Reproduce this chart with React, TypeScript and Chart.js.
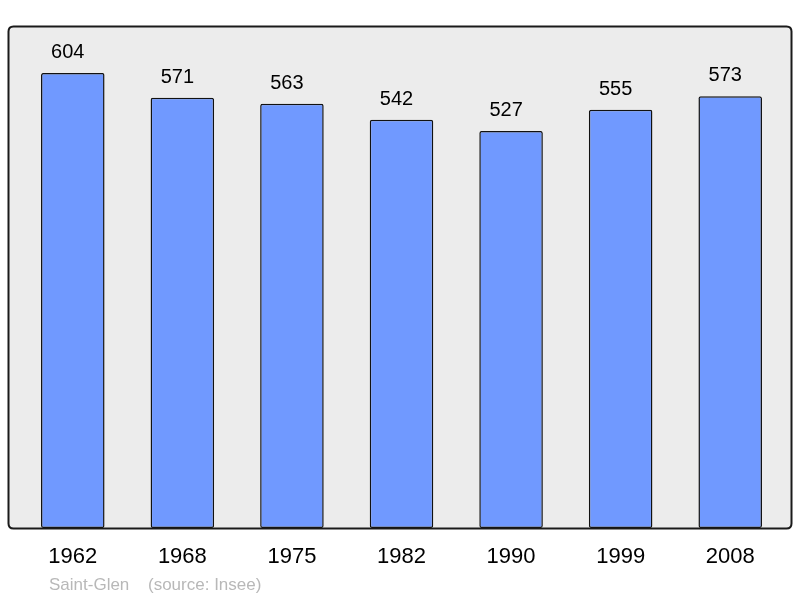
import React, { useEffect, useRef } from "react";
import { Chart, registerables } from "chart.js";

Chart.register(...registerables);

const years = ["1962", "1968", "1975", "1982", "1990", "1999", "2008"];
const population = [604, 571, 563, 542, 527, 555, 573];
const footerPlace = "Saint-Glen";
const footerSource = "(source: Insee)";

const FONT = "'Liberation Sans', Arial, sans-serif";

function panelPath(ctx: CanvasRenderingContext2D) {
  const x = 8.5, y = 26.5, w = 783, h = 502, r = 5;
  ctx.beginPath();
  ctx.moveTo(x + r, y);
  ctx.lineTo(x + w - r, y);
  ctx.quadraticCurveTo(x + w, y, x + w, y + r);
  ctx.lineTo(x + w, y + h - r);
  ctx.quadraticCurveTo(x + w, y + h, x + w - r, y + h);
  ctx.lineTo(x + r, y + h);
  ctx.quadraticCurveTo(x, y + h, x, y + h - r);
  ctx.lineTo(x, y + r);
  ctx.quadraticCurveTo(x, y, x + r, y);
  ctx.closePath();
}

const panelPlugin = {
  id: "panel",
  beforeDraw(chart: any) {
    const ctx = chart.ctx;
    ctx.save();
    panelPath(ctx);
    ctx.fillStyle = "#ececec";
    ctx.fill();
    ctx.restore();
  },
  afterDraw(chart: any) {
    const ctx = chart.ctx;
    ctx.save();
    panelPath(ctx);
    ctx.lineWidth = 2;
    ctx.strokeStyle = "#1a1a1a";
    ctx.stroke();
    ctx.fillStyle = "#b8b8b8";
    ctx.font = "17px " + FONT;
    ctx.textBaseline = "alphabetic";
    ctx.textAlign = "left";
    ctx.fillText(footerPlace, 49, 590);
    ctx.fillText(footerSource, 148, 590);
    ctx.restore();
  },
};

const valueLabelPlugin = {
  id: "valueLabels",
  afterDatasetsDraw(chart: any) {
    const ctx = chart.ctx;
    const meta = chart.getDatasetMeta(0);
    ctx.save();
    ctx.fillStyle = "#000";
    ctx.font = "20px " + FONT;
    ctx.textAlign = "center";
    ctx.textBaseline = "alphabetic";
    meta.data.forEach((bar: any, i: number) => {
      ctx.fillText(String(chart.data.datasets[0].data[i]), bar.x - 5, bar.y - 15);
    });
    ctx.restore();
  },
};

export default function App() {
  const ref = useRef<HTMLCanvasElement>(null);
  useEffect(() => {
    if (!ref.current) return;
    const chart = new Chart(ref.current, {
      type: "bar",
      data: {
        labels: years,
        datasets: [
          {
            data: population,
            backgroundColor: "#7099ff",
            borderColor: "#111",
            borderWidth: 1.5,
            borderRadius: 2,
            borderSkipped: false,
            barPercentage: 0.58,
            categoryPercentage: 1,
          },
        ],
      },
      options: {
        responsive: false,
        animation: false,
        devicePixelRatio: 1,
        layout: { padding: { left: 18, right: 15, top: 27, bottom: 0 } },
        plugins: { legend: { display: false }, tooltip: { enabled: false } },
        scales: {
          x: {
            grid: { display: false, drawTicks: false },
            border: { display: false },
            ticks: {
              color: "#000",
              font: { family: FONT, size: 22 },
              padding: 16,
              maxRotation: 0,
            },
            afterFit(scale: any) {
              scale.height = 70;
            },
          },
          y: {
            display: false,
            min: 0,
            max: 665,
          },
        },
      },
      plugins: [panelPlugin, valueLabelPlugin],
    });
    return () => chart.destroy();
  }, []);
  return (
    <canvas
      ref={ref}
      width={800}
      height={598}
      style={{ position: "absolute", left: 0, top: 0, width: 800, height: 598 }}
    />
  );
}
